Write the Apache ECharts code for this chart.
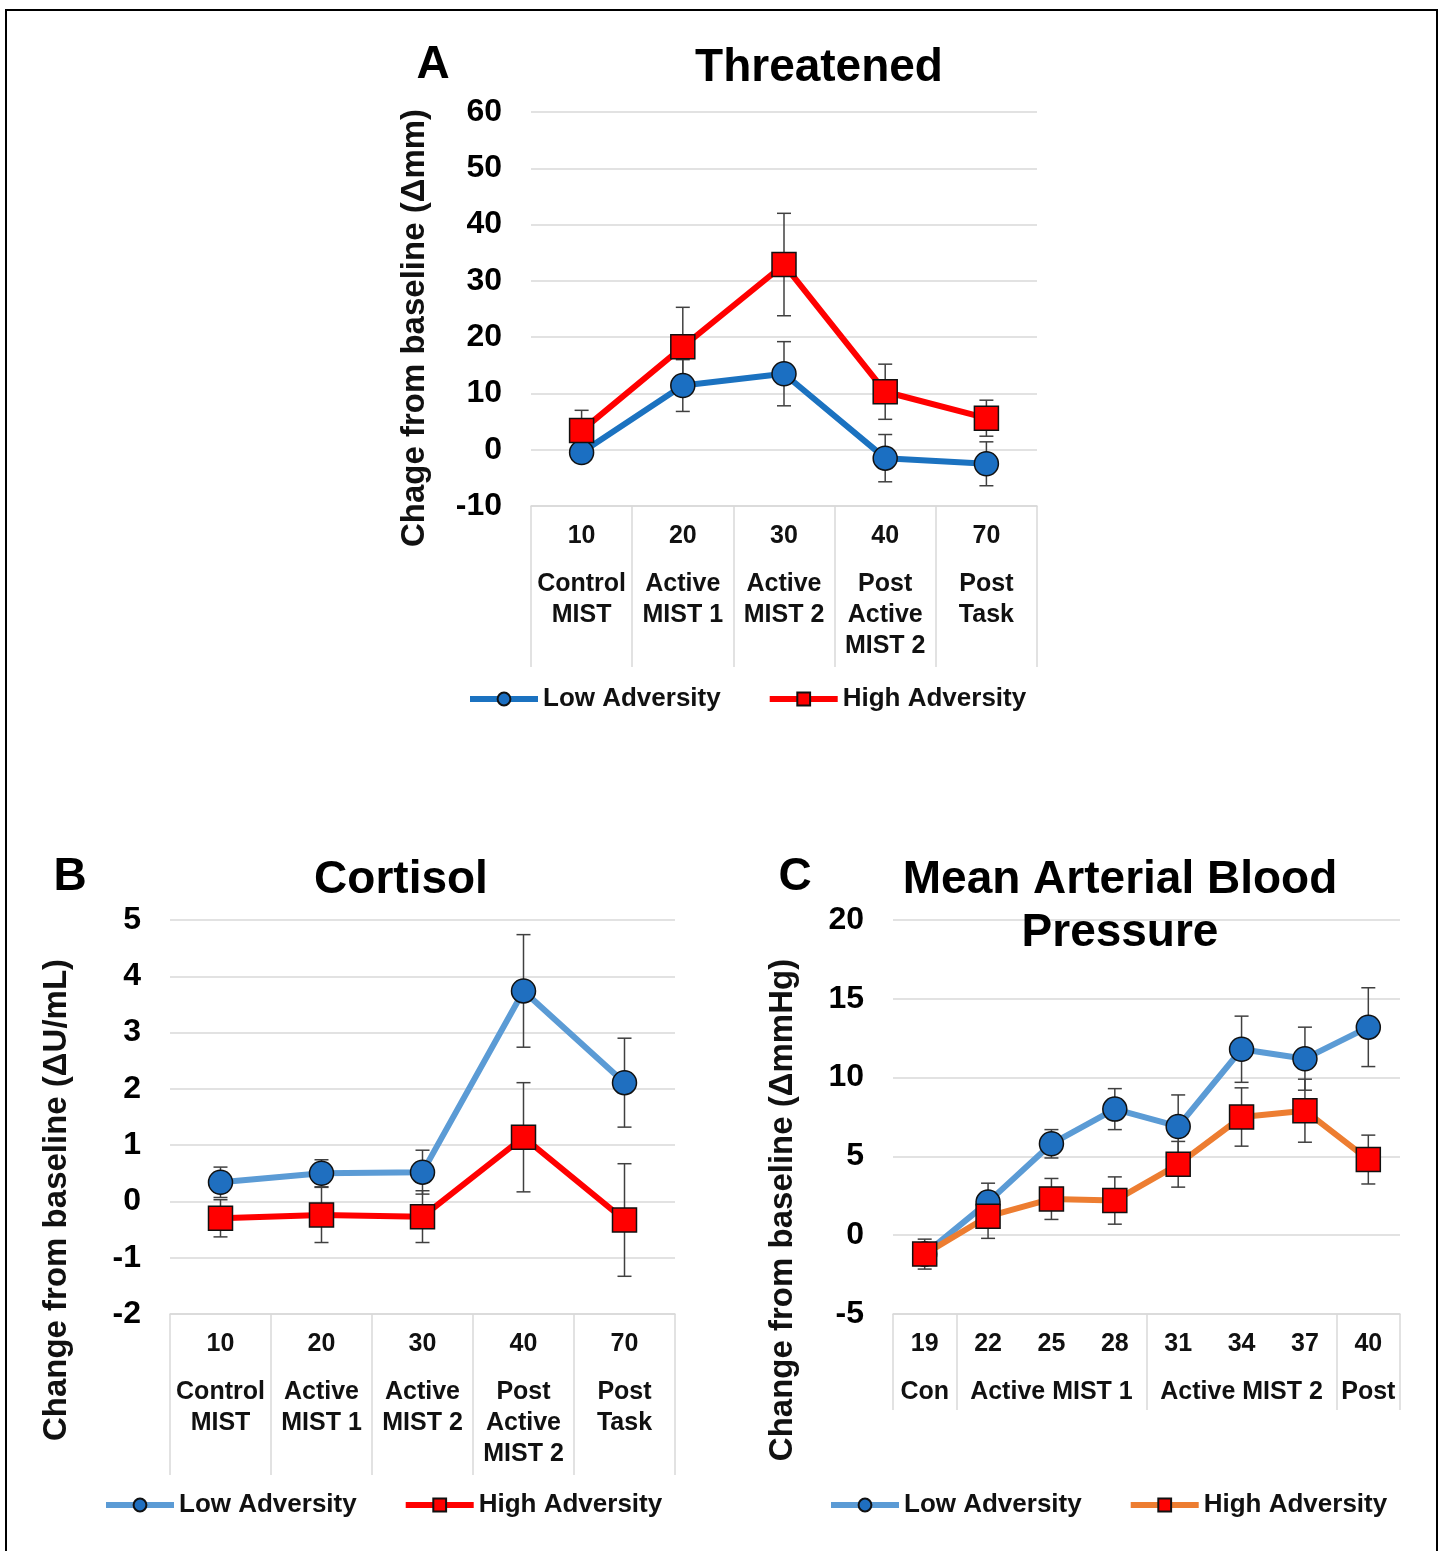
<!DOCTYPE html>
<html><head><meta charset="utf-8">
<script src="https://cdn.jsdelivr.net/npm/echarts@6/dist/echarts.min.js"></script>
<style>
html,body{margin:0;padding:0;background:#fff;}
body{width:1443px;height:1551px;overflow:hidden;position:relative;}
.c{position:absolute;left:0;top:0;width:1443px;height:1551px;}
#frame{position:absolute;left:5px;top:9px;width:1433px;height:1600px;border:2px solid #000;box-sizing:border-box;pointer-events:none;}
</style></head>
<body>
<div id="frame"></div>
<div id="ca" class="c"></div><div id="cb" class="c"></div><div id="cc" class="c"></div>
<script>
// ---- Data ----
const catsA = ['10','20','30','40','70'];
const namesA = ['Control\nMIST','Active\nMIST 1','Active\nMIST 2','Post\nActive\nMIST 2','Post\nTask'];
const lowA = [-0.5, 11.4, 13.5, -1.5, -2.5];
const lowAErr = [1.5, 4.6, 5.7, 4.2, 3.9];
const highA = [3.4, 18.3, 32.9, 10.3, 5.6];
const highAErr = [3.6, 7.0, 9.1, 4.9, 3.2];
const yTicksA = {min:-10, max:60, interval:10};

const catsB = ['10','20','30','40','70'];
const namesB = ['Control\nMIST','Active\nMIST 1','Active\nMIST 2','Post\nActive\nMIST 2','Post\nTask'];
const lowB = [0.34, 0.50, 0.52, 3.74, 2.11];
const lowBErr = [0.27, 0.24, 0.39, 1.0, 0.79];
const highB = [-0.30, -0.24, -0.27, 1.14, -0.33];
const highBErr = [0.33, 0.49, 0.46, 0.97, 1.0];
const yTicksB = {min:-2, max:5, interval:1};

const catsC = ['19','22','25','28','31','34','37','40'];
const namesC = ['Con','','Active MIST 1','','','Active MIST 2','','Post'];
const groupStartsC = [0, 1, 4, 7];
const lowC = [-1.2, 2.1, 5.8, 8.0, 6.9, 11.8, 11.2, 13.2];
const lowCErr = [0.7, 1.2, 0.9, 1.3, 2.0, 2.1, 2.0, 2.5];
const highC = [-1.2, 1.2, 2.3, 2.2, 4.5, 7.5, 7.9, 4.8];
const highCErr = [0.95, 1.4, 1.3, 1.5, 1.45, 1.85, 2.0, 1.55];
const yTicksC = {min:-5, max:20, interval:5};

const FONT = "'Liberation Sans', Arial, Helvetica, sans-serif";
const NARROW = "'Liberation Sans Narrow', 'Arial Narrow', 'Liberation Sans', Arial, sans-serif";

function errorSeries(vals, errs) {
  return {
    type: 'custom', silent: true, z: 1,
    encode: {x: 0, y: 1},
    data: vals.map((v, i) => [i, v, errs[i]]),
    renderItem: function (params, api) {
      const x = api.value(0), y = api.value(1), e = api.value(2);
      const t = api.coord([x, y + e]);
      const b = api.coord([x, y - e]);
      const w = 7;
      const st = {stroke: '#404040', lineWidth: 1.5};
      return {type: 'group', children: [
        {type: 'line', shape: {x1: t[0], y1: t[1], x2: b[0], y2: b[1]}, style: st},
        {type: 'line', shape: {x1: t[0] - w, y1: t[1], x2: t[0] + w, y2: t[1]}, style: st},
        {type: 'line', shape: {x1: b[0] - w, y1: b[1], x2: b[0] + w, y2: b[1]}, style: st}
      ]};
    }
  };
}

function lineSeries(name, vals, symbol, lineColor, fill) {
  return {
    name: name, type: 'line', data: vals, z: 3,
    symbol: symbol, symbolSize: 24,
    lineStyle: {color: lineColor, width: 6},
    itemStyle: {color: fill, borderColor: '#111', borderWidth: 1.5},
    emphasis: {disabled: true}
  };
}

function panel(cfg) {
  return {
    animation: false,
    textStyle: {fontFamily: FONT},
    title: [
      {text: cfg.letter, left: cfg.letterX, top: cfg.titleTop, textAlign: 'center', padding: 0,
       textStyle: {fontSize: 46, fontWeight: 'bold', color: '#000', fontFamily: FONT}},
      {text: cfg.title, left: cfg.titleX, top: cfg.titleTop, textAlign: 'center', padding: 0,
       textStyle: {fontSize: 46, fontWeight: 'bold', color: '#000', lineHeight: 53, fontFamily: FONT}}
    ],
    legend: {
      left: cfg.legendLeft, top: cfg.legendTop, itemWidth: 68, itemHeight: 16, itemGap: 46, padding: 0,
      lineStyle: {width: 6},
      textStyle: {fontSize: 26, fontWeight: 'bold', color: '#111', fontFamily: FONT},
      data: ['Low Adversity', 'High Adversity']
    },
    grid: {left: cfg.grid[0], top: cfg.grid[1], width: cfg.grid[2], height: cfg.grid[3]},
    xAxis: {
      type: 'category', data: cfg.cats, boundaryGap: true,
      axisLine: {show: true, onZero: false, lineStyle: {color: '#d9d9d9', width: 1.5}},
      axisTick: {show: true, length: cfg.tickLen, interval: cfg.tickInterval, lineStyle: {color: '#d9d9d9', width: 1.5}},
      splitLine: {show: false},
      axisLabel: {
        interval: 0, margin: 10, color: '#111',
        formatter: function (v, i) {
          const lines = cfg.names[i].split('\n').map(t => '{t|' + (t || ' ') + '}').join('\n');
          return '{n|' + v + '}\n{s| }\n' + lines;
        },
        rich: {
          n: {fontSize: 25, fontWeight: 'bold', lineHeight: 40, color: '#111', fontFamily: FONT},
          s: {fontSize: 10, lineHeight: 13},
          t: {fontSize: 25, fontWeight: 'bold', lineHeight: 31, color: '#111', fontFamily: FONT}
        }
      }
    },
    yAxis: {
      type: 'value', min: cfg.y.min, max: cfg.y.max, interval: cfg.y.interval,
      axisLine: {show: false}, axisTick: {show: false},
      splitLine: {lineStyle: {color: '#d9d9d9', width: 1.5}},
      axisLabel: {margin: 29, fontSize: 32, fontWeight: 'bold', color: '#000', fontFamily: NARROW},
      name: cfg.yName, nameLocation: 'middle', nameRotate: 90, nameGap: cfg.nameGap,
      nameTextStyle: {fontSize: 33, fontWeight: 'bold', color: '#111', fontFamily: FONT, padding: [0, cfg.namePad, 0, 0]}
    },
    series: cfg.series
  };
}

const chartA = echarts.init(document.getElementById('ca'), null, {renderer: 'canvas'});
chartA.setOption(panel({
  letter: 'A', letterX: 433, title: 'Threatened', titleX: 819, titleTop: 42,
  legendLeft: 467, legendTop: 686,
  grid: [531, 112, 506, 394], cats: catsA, names: namesA, tickLen: 161, tickInterval: 0,
  y: yTicksA, yName: 'Chage from baseline (\u0394mm)', nameGap: 100, namePad: 38,
  series: [
    errorSeries(lowA, lowAErr), errorSeries(highA, highAErr),
    lineSeries('Low Adversity', lowA, 'circle', '#1b72c0', '#1b6fc2'),
    lineSeries('High Adversity', highA, 'rect', '#ff0000', '#ff0000')
  ]
}));

const chartB = echarts.init(document.getElementById('cb'), null, {renderer: 'canvas'});
chartB.setOption(panel({
  letter: 'B', letterX: 70, title: 'Cortisol', titleX: 401, titleTop: 854,
  legendLeft: 103, legendTop: 1492,
  grid: [170, 920, 505, 394], cats: catsB, names: namesB, tickLen: 161, tickInterval: 0,
  y: yTicksB, yName: 'Change from baseline (\u0394U/mL)', nameGap: 97, namePad: 166,
  series: [
    errorSeries(lowB, lowBErr), errorSeries(highB, highBErr),
    lineSeries('Low Adversity', lowB, 'circle', '#5b9bd5', '#1f6fc0'),
    lineSeries('High Adversity', highB, 'rect', '#ff0000', '#ff0000')
  ]
}));

const chartC = echarts.init(document.getElementById('cc'), null, {renderer: 'canvas'});
chartC.setOption(panel({
  letter: 'C', letterX: 795, title: 'Mean Arterial Blood\nPressure', titleX: 1120, titleTop: 854,
  legendLeft: 828, legendTop: 1492,
  grid: [893, 920, 507, 394], cats: catsC, names: namesC, tickLen: 96,
  tickInterval: function (idx) { return groupStartsC.indexOf(idx) >= 0; },
  y: yTicksC, yName: 'Change from baseline (\u0394mmHg)', nameGap: 94, namePad: 186,
  series: [
    errorSeries(lowC, lowCErr), errorSeries(highC, highCErr),
    lineSeries('Low Adversity', lowC, 'circle', '#5b9bd5', '#1f6fc0'),
    lineSeries('High Adversity', highC, 'rect', '#ed7d31', '#ff0000')
  ]
}));
</script>
</body></html>
